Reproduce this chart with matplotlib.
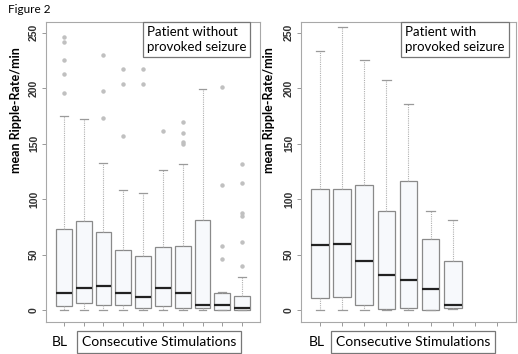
import numpy as np
import matplotlib.pyplot as plt

# left panel: patient without provoked seizure (BL + 9 stimulations)
left_q1 = [3.6, 6.0, 4.8, 4.2, 1.8, 3.3, 1.5, 1.8, 0.5, 0.2]
left_med = [15.3, 19.5, 21.3, 15.3, 11.4, 19.8, 15.3, 4.8, 4.5, 2.1]
left_q3 = [72.7, 80.0, 70.3, 53.8, 48.4, 56.5, 58.0, 81.2, 15.6, 12.9]
left_lo = [0, 0, 0, 0, 0, 0, 0, 0, 0, 0]
left_hi = [174.7, 172.5, 132.8, 108.2, 105.2, 126.5, 131.6, 199.6, 16.5, 30.0]
left_fliers = [
    [245.9, 241.7, 225.4, 212.8, 195.9],
    [],
    [230.0, 197.8, 172.8],
    [217.6, 204.1, 156.9],
    [217.6, 204.1],
    [161.1],
    [169.8, 159.6, 151.5, 149.7],
    [],
    [201.0, 112.7, 57.7, 46.0],
    [131.4, 114.2, 87.2, 85.0, 61.6, 40.0],
]

# right panel: patient with provoked seizure (BL + 6 stimulations)
right_q1 = [11.1, 11.7, 4.8, 1.2, 1.5, 0.0, 1.5]
right_med = [58.6, 59.5, 44.5, 31.3, 27.0, 19.2, 4.2]
right_q3 = [109.4, 108.8, 112.7, 89.5, 116.0, 64.0, 44.5]
right_lo = [0, 0, 0, 0, 0, 0, 1.0]
right_hi = [233.2, 255.0, 225.4, 207.1, 185.5, 89.0, 81.2]

yticks = [0, 50, 100, 150, 200, 250]

fig = plt.figure(figsize=(5.18, 3.54), dpi=100)
fig.patch.set_facecolor('white')

edge = '#8a8a8a'


def panel(rect, q1, med, q3, lo, hi, fliers, nslots, title, lab_x):
    ax = fig.add_axes(rect)
    stats = []
    for i in range(len(med)):
        stats.append(dict(q1=q1[i], med=med[i], q3=q3[i], whislo=lo[i],
                          whishi=hi[i], fliers=fliers[i]))
    pos = np.arange(1, len(med) + 1)
    ax.bxp(stats, positions=pos, widths=0.8, patch_artist=True,
           boxprops=dict(facecolor='#f7f9fc', edgecolor=edge, linewidth=0.9),
           medianprops=dict(color='#222222', linewidth=1.6),
           whiskerprops=dict(color='#b0b0b0', linewidth=0.8, linestyle=(0, (1, 1))),
           capprops=dict(color='#9a9a9a', linewidth=0.9),
           flierprops=dict(marker='o', markersize=2.2, markerfacecolor='#c0c0c0',
                           markeredgecolor='#c0c0c0'))
    ax.set_xlim(0.5 - 0.04 * nslots, nslots + 0.5 + 0.04 * nslots)
    ax.set_ylim(-10.5, 260)
    ax.set_xticks(np.arange(1, nslots + 1))
    ax.set_xticklabels([])
    ax.set_yticks(yticks)
    ax.set_yticklabels([str(t) for t in yticks], rotation=90, va='center',
                       fontsize=7.5, fontweight='bold', family='Liberation Sans')
    ax.tick_params(axis='both', colors='#999999', length=3, width=0.7,
                   labelcolor='#333333')
    ax.tick_params(axis='y', pad=2)
    for s in ax.spines.values():
        s.set_color('#a8a8a8')
        s.set_linewidth(0.8)
    ax.set_ylabel('mean Ripple-Rate/min', fontsize=9, fontweight='bold',
                  family='Lato')
    ax.yaxis.set_label_coords(lab_x, 0.706)
    ax.text(0.47, 0.985, title, transform=ax.transAxes, fontsize=9.5,
            family='Lato', va='top', ha='left', linespacing=1.25,
            bbox=dict(boxstyle='square,pad=0.3', facecolor='white',
                      edgecolor='#777777', linewidth=0.9))
    return ax


ax1 = panel([0.0888, 0.0912, 0.4131, 0.8475], left_q1, left_med, left_q3,
            left_lo, left_hi, left_fliers, 10, 'Patient without\nprovoked seizure',
            -0.112)
ax2 = panel([0.5811, 0.0912, 0.4150, 0.8475], right_q1, right_med, right_q3,
            right_lo, right_hi, [[]] * 7, 9, 'Patient with\nprovoked seizure',
            -0.121)
ax2.texts[0].set_x(0.485)

fig.text(0.016, 0.972, 'Figure 2', fontsize=8.5, family='Lato', va='center')

for x_bl, x_box in [(0.116, 0.158), (0.612, 0.648)]:
    fig.text(x_bl, 0.034, 'BL', fontsize=10, family='Lato', ha='center', va='center')
    fig.text(x_box, 0.034, 'Consecutive Stimulations', fontsize=10, family='Lato',
             ha='left', va='center',
             bbox=dict(boxstyle='square,pad=0.35', facecolor='white',
                       edgecolor='#777777', linewidth=0.9))

plt.savefig('out.png', dpi=100)
